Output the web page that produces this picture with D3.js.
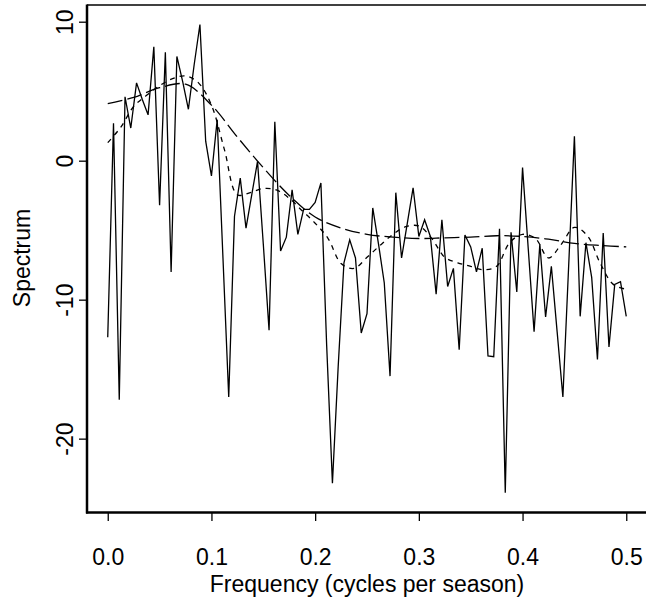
<!DOCTYPE html>
<html>
<head>
<meta charset="utf-8">
<script src="https://cdn.jsdelivr.net/npm/d3@7"></script>
<style>
  body { margin: 0; background: #fff; }
  text { font-family: "Liberation Sans", Arial, sans-serif; fill: #000; }
</style>
</head>
<body>
<svg width="646" height="600"></svg>
<script>
// raw periodogram, Fourier frequencies k/180, k = 0..90
const spec = [-12.7, 2.7, -17.2, 4.6, 2.35, 5.6, 4.4, 3.3, 8.2, -3.2,
  7.8, -8.0, 7.5, 5.7, 3.7, 6.9, 9.8, 1.4, -1.1, 2.95,
  -7.0, -17.0, -4.0, -1.25, -4.85, -2.45, -0.05, -6.0, -12.2, 2.8,
  -6.5, -5.5, -2.1, -5.3, -3.5, -3.5, -3.0, -1.6, -13.3, -23.2,
  -14.8, -7.35, -5.7, -7.0, -12.4, -11.0, -3.4, -6.0, -8.8, -15.5,
  -2.3, -7.0, -4.5, -1.95, -5.45, -4.25, -5.45, -9.6, -4.25, -9.05,
  -7.75, -13.6, -5.35, -6.2, -8.0, -6.3, -14.05, -14.1, -4.9, -23.9,
  -5.15, -9.45, -0.5, -6.4, -12.3, -6.0, -11.25, -7.6, -12.3, -17.0,
  -7.6, 1.75, -11.2, -5.9, -8.4, -14.3, -5.2, -13.4, -8.9, -8.7, -11.2];
const nObs = 180;

// smoothed periodogram (short dashes)
const smoothFreq = [0, 0.0125, 0.025, 0.0375, 0.05, 0.0625, 0.075, 0.0875, 0.1, 0.1125,
  0.125, 0.1375, 0.15, 0.1625, 0.175, 0.1875, 0.2, 0.2125, 0.225, 0.2375,
  0.25, 0.2625, 0.275, 0.2875, 0.3, 0.3125, 0.325, 0.3375, 0.35, 0.3625,
  0.375, 0.3875, 0.4, 0.4125, 0.425, 0.4375, 0.45, 0.4625, 0.475, 0.4875, 0.5];
const smoothSpec = [1.3, 2.4, 3.9, 4.7, 5.4, 5.9, 6.1, 5.6, 4.0, 0.8,
  -2.45, -2.3, -2.0, -2.1, -2.7, -3.6, -4.5, -5.6, -7.4, -7.75,
  -6.95, -6.1, -5.3, -4.75, -4.7, -5.6, -6.95, -7.35, -7.6, -7.85,
  -7.6, -5.9, -5.3, -5.6, -7.0, -6.0, -4.8, -5.4, -7.4, -8.9, -9.25];

// AR spectrum (long dashes)
const arFreq = [0, 0.025, 0.05, 0.075, 0.1, 0.125, 0.15, 0.175, 0.2, 0.225,
  0.25, 0.275, 0.3, 0.325, 0.35, 0.375, 0.4, 0.425, 0.45, 0.475, 0.5];
const arSpec = [4.1, 4.55, 5.25, 5.5, 4.0, 1.7, -0.5, -2.5, -4.05, -4.85,
  -5.3, -5.5, -5.6, -5.55, -5.5, -5.4, -5.45, -5.65, -5.95, -6.1, -6.2];

const xTicks = [0, 0.1, 0.2, 0.3, 0.4, 0.5];
const yTicks = [-20, -10, 0, 10];

const svg = d3.select("svg");

const x = d3.scaleLinear().domain([-0.02, 0.52]).range([87, 647]);
const y = d3.scaleLinear().domain([-25.35, 11.13]).range([513, 6]);

// data lines
const raw = spec.map((v, k) => ({f: k / nObs, v: v}));
const smooth = smoothFreq.map((f, i) => ({f: f, v: smoothSpec[i]}));
const ar = arFreq.map((f, i) => ({f: f, v: arSpec[i]}));

const lineLin = d3.line().x(d => x(d.f)).y(d => y(d.v));
const lineSmooth = d3.line().x(d => x(d.f)).y(d => y(d.v)).curve(d3.curveCatmullRom);

svg.append("path")
  .datum(raw)
  .attr("d", lineLin)
  .attr("fill", "none")
  .attr("stroke", "#000")
  .attr("stroke-width", 1.3)
  .attr("stroke-linejoin", "miter");

svg.append("path")
  .datum(smooth)
  .attr("d", lineSmooth)
  .attr("fill", "none")
  .attr("stroke", "#000")
  .attr("stroke-width", 1.3)
  .attr("stroke-dasharray", "5,5");

svg.append("path")
  .datum(ar)
  .attr("d", lineSmooth)
  .attr("fill", "none")
  .attr("stroke", "#000")
  .attr("stroke-width", 1.3)
  .attr("stroke-dasharray", "15,5");

// box
svg.append("line").attr("x1", 87).attr("x2", 646).attr("y1", 5).attr("y2", 5)
  .attr("stroke", "#000").attr("stroke-width", 1.3);
svg.append("line").attr("x1", 87).attr("x2", 87).attr("y1", 4.5).attr("y2", 513.5)
  .attr("stroke", "#000").attr("stroke-width", 2.5);
svg.append("line").attr("x1", 86).attr("x2", 646).attr("y1", 512.5).attr("y2", 512.5)
  .attr("stroke", "#000").attr("stroke-width", 2.5);

// axes
const xAxis = svg.append("g")
  .attr("transform", "translate(0,513)")
  .call(d3.axisBottom(x).tickValues(xTicks).tickFormat(d3.format(".1f")).tickSize(8).tickPadding(28));
xAxis.select(".domain").remove();
xAxis.selectAll("line").attr("stroke-width", 1.3);
xAxis.selectAll("text").attr("font-size", 23).attr("font-family", "Liberation Sans, Arial, sans-serif");

const yAxis = svg.append("g")
  .attr("transform", "translate(87,0)")
  .call(d3.axisLeft(y).tickValues(yTicks).tickSize(8).tickFormat(d => String(d)));
yAxis.select(".domain").remove();
yAxis.selectAll("line").attr("stroke-width", 1.3);
yAxis.selectAll("text")
  .attr("font-size", 23)
  .attr("font-family", "Liberation Sans, Arial, sans-serif")
  .attr("x", null).attr("dy", null)
  .attr("text-anchor", "middle")
  .attr("transform", "translate(-14,0) rotate(-90)");

svg.append("text")
  .attr("x", x(0.25)).attr("y", 592)
  .attr("text-anchor", "middle")
  .attr("font-size", 23)
  .text("Frequency (cycles per season)");

svg.append("text")
  .attr("transform", "translate(30," + y(-7) + ") rotate(-90)")
  .attr("text-anchor", "middle")
  .attr("font-size", 23)
  .text("Spectrum");
</script>
</body>
</html>
